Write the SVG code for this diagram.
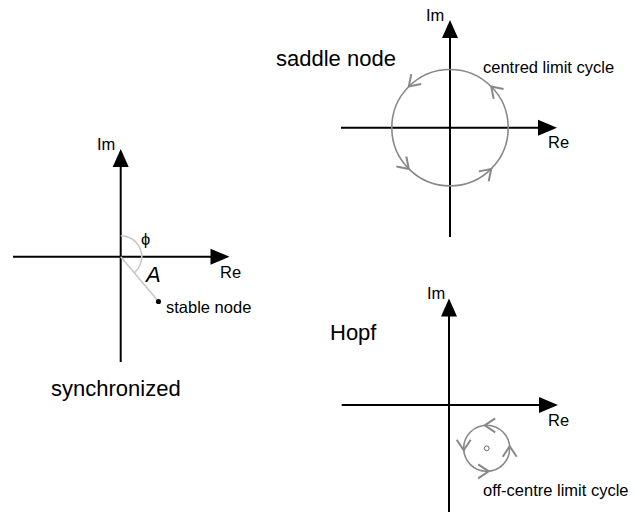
<svg xmlns="http://www.w3.org/2000/svg" width="634" height="512" viewBox="0 0 634 512">
  <style>
    .axis { stroke: #000; stroke-width: 2; fill: none; }
    .head { fill: #000; stroke: none; }
    .cycle { stroke: #888; stroke-width: 1.6; fill: none; }
    .chev { stroke: #888; stroke-width: 2; fill: none; stroke-linecap: butt; stroke-linejoin: miter; }
    .guide { stroke: #c8c8c8; stroke-width: 1.6; fill: none; }
    .lbl { font-family: "Liberation Sans", Arial, sans-serif; font-size: 16.5px; fill: #000; }
    .title { font-family: "Liberation Sans", Arial, sans-serif; font-size: 22px; fill: #000; }
  </style>
  <defs>
    <!-- open chevron pointing along +x, vertex at origin -->
    <path id="chev" d="M-10.5,-7 L0,0 L-10.5,7"/>
    <!-- filled axis arrowheads, tip at origin -->
    <polygon id="headR" points="0,0 -19,-8 -19,8"/>
    <polygon id="headU" points="0,0 -8,18 8,18"/>
  </defs>

  <!-- synchronized: stable node -->
  <g id="synchronized">
    <line class="axis" x1="13" y1="256.7" x2="214" y2="256.7"/>
    <line class="axis" x1="120.7" y1="362" x2="120.7" y2="164"/>
    <use href="#headR" class="head" x="229.5" y="256.7"/>
    <use href="#headU" class="head" x="120.7" y="149"/>
    <path class="guide" d="M120.7,235.7 A21,21 0 0 1 134.2,272.8"/>
    <line class="guide" x1="120.7" y1="256.7" x2="158.5" y2="301.5"/>
    <circle cx="158.5" cy="301.5" r="2.6" fill="#000"/>
    <text class="lbl" x="97" y="150">Im</text>
    <text class="lbl" x="220" y="278">Re</text>
    <text class="lbl" x="141" y="245" font-family="'DejaVu Sans', sans-serif" font-size="17.5px">ϕ</text>
    <text class="title" x="146" y="282" font-style="italic" font-size="21px">A</text>
    <text class="lbl" x="166" y="313">stable node</text>
    <text class="title" x="51" y="396">synchronized</text>
  </g>

  <!-- saddle node: centred limit cycle -->
  <g id="saddle-node">
    <line class="axis" x1="341" y1="127.7" x2="541" y2="127.7"/>
    <line class="axis" x1="450" y1="237" x2="450" y2="36"/>
    <use href="#headR" class="head" x="557" y="127.7"/>
    <use href="#headU" class="head" x="450" y="20"/>
    <circle class="cycle" cx="450" cy="127.7" r="58.2"/>
    <use href="#chev" class="chev" transform="translate(408.8,86.5) rotate(135)"/>
    <use href="#chev" class="chev" transform="translate(491.2,86.5) rotate(-135)"/>
    <use href="#chev" class="chev" transform="translate(408.8,168.9) rotate(45)"/>
    <use href="#chev" class="chev" transform="translate(491.2,168.9) rotate(-45)"/>
    <text class="lbl" x="426" y="21">Im</text>
    <text class="lbl" x="548" y="148">Re</text>
    <text class="title" x="276" y="66">saddle node</text>
    <text class="lbl" x="483" y="73">centred limit cycle</text>
  </g>

  <!-- Hopf: off-centre limit cycle -->
  <g id="hopf">
    <line class="axis" x1="341.7" y1="405" x2="541" y2="405"/>
    <line class="axis" x1="449" y1="512" x2="449" y2="314"/>
    <use href="#headR" class="head" x="558" y="405"/>
    <use href="#headU" class="head" x="449" y="298.5"/>
    <circle class="cycle" cx="486.7" cy="448.3" r="23"/>
    <circle cx="486.7" cy="448.3" r="2.4" fill="none" stroke="#666" stroke-width="1"/>
    <use href="#chev" class="chev" transform="translate(484.7,425.3) rotate(180)"/>
    <use href="#chev" class="chev" transform="translate(463.7,450.3) rotate(90)"/>
    <use href="#chev" class="chev" transform="translate(488.7,471.3) rotate(0)"/>
    <use href="#chev" class="chev" transform="translate(509.7,446.3) rotate(-90)"/>
    <text class="lbl" x="427" y="299">Im</text>
    <text class="lbl" x="548" y="426">Re</text>
    <text class="title" x="330" y="340">Hopf</text>
    <text class="lbl" x="483" y="496">off-centre limit cycle</text>
  </g>
</svg>
